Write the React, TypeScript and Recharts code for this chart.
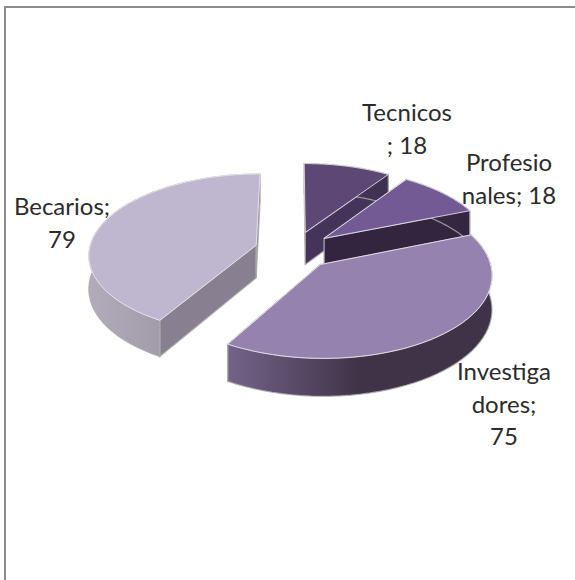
import React from "react";
import { PieChart, Pie } from "recharts";

const categories = ["Tecnicos", "Profesionales", "Investigadores", "Becarios"];
const values = [18, 18, 75, 79];
const topColors = ["#5d4775", "#735a94", "#9682ae", "#bfb6cf"];
const wallColors = ["#44345a", "#33243f", "#40344a", "#888090"];
const rimStart = ["#4a3a60", "#3a2a48", "#746388", "#b2acba"];
const rimEnd = ["#3e3050", "#33243f", "#3f3348", "#8b8394"];
const labelLines = [["Tecnicos", "; 18"], ["Profesio", "nales; 18"], ["Investiga", "dores;", "75"], ["Becarios;", "79"]];
const labelAnchors = [[407, 121], [509, 171], [504, 380], [62, 215]];

const data = categories.map((name, i) => ({ name, value: values[i], idx: i }));

const EXPLODE = 0.236;
const ASPECT = 80 / 167;
const PERSP = 0.11;
const DEPTH = 33;
const STEPS = 48;

type P = [number, number];

function Slice(props: any) {
  const { cx, cy, outerRadius, startAngle, endAngle, payload } = props;
  const i = payload.idx;
  const a0 = ((90 - startAngle) * Math.PI) / 180;
  const a1 = ((90 - endAngle) * Math.PI) / 180;
  const mid = (a0 + a1) / 2;
  const ox = EXPLODE * Math.sin(mid);
  const oz = EXPLODE * Math.cos(mid);
  const project = (X: number, Z: number, down = 0): P => {
    const s = 1 / (1 + PERSP * Z);
    return [cx + X * outerRadius * s, cy - Z * outerRadius * ASPECT * s + down * s];
  };
  const arc = (down: number): P[] => {
    const pts: P[] = [];
    for (let k = 0; k <= STEPS; k++) {
      const t = a0 + ((a1 - a0) * k) / STEPS;
      pts.push(project(ox + Math.sin(t), oz + Math.cos(t), down));
    }
    return pts;
  };
  const toPath = (pts: P[]) => "M" + pts.map((p) => `${p[0].toFixed(2)},${p[1].toFixed(2)}`).join("L") + "Z";
  const apexTop = project(ox, oz, 0);
  const apexBot = project(ox, oz, DEPTH);
  const top = arc(0);
  const bottom = arc(DEPTH);
  const gid = `rim-${i}`;
  const edge = "rgba(172,172,172,0.85)";
  return (
    <g>
      <defs>
        <linearGradient id={gid} x1="0" y1="0" x2="1" y2="0">
          <stop offset="0" stopColor={rimStart[i]} />
          <stop offset={i === 2 ? "0.5" : "1"} stopColor={rimEnd[i]} />
          <stop offset="1" stopColor={rimEnd[i]} />
        </linearGradient>
      </defs>
      <path d={toPath([apexTop, top[0], bottom[0], apexBot])} fill={wallColors[i]} stroke={edge} strokeWidth={1.2} />
      <path d={toPath([apexTop, top[STEPS], bottom[STEPS], apexBot])} fill={wallColors[i]} stroke={edge} strokeWidth={1.2} />
      <path d={toPath([...top, ...[...bottom].reverse()])} fill={`url(#${gid})`} stroke={edge} strokeWidth={1.2} />
      <path d={toPath([apexTop, ...top])} fill={topColors[i]} stroke="rgba(240,238,245,0.8)" strokeWidth={1} />
    </g>
  );
}

function SliceLabel(props: any) {
  const i = props.payload?.idx ?? props.index;
  const [x, y] = labelAnchors[i];
  return (
    <text x={x} y={y} textAnchor="middle" fontFamily="Lato, sans-serif" fontSize={24} fill="#2b2b2b">
      {labelLines[i].map((line, k) => (
        <tspan key={k} x={x} y={y + k * 32.5}>
          {line}
        </tspan>
      ))}
    </text>
  );
}

export default function App() {
  return (
    <div style={{ position: "absolute", left: 0, top: 0, width: 575, height: 580, overflow: "hidden", background: "#fff" }}>
      <div style={{ position: "absolute", left: 4, top: 6, width: 640, height: 640, border: "2px solid #8c8c8c" }} />
      <div style={{ position: "absolute", left: 0, top: 0 }}>
        <PieChart width={575} height={580} margin={{ top: 0, right: 0, bottom: 0, left: 0 }}>
          <Pie
            data={data}
            dataKey="value"
            nameKey="name"
            cx={294}
            cy={250}
            outerRadius={167}
            startAngle={90}
            endAngle={-270}
            paddingAngle={0}
            stroke="none"
            shape={Slice}
            label={SliceLabel}
            labelLine={false}
            isAnimationActive={false}
          />
        </PieChart>
      </div>
    </div>
  );
}
